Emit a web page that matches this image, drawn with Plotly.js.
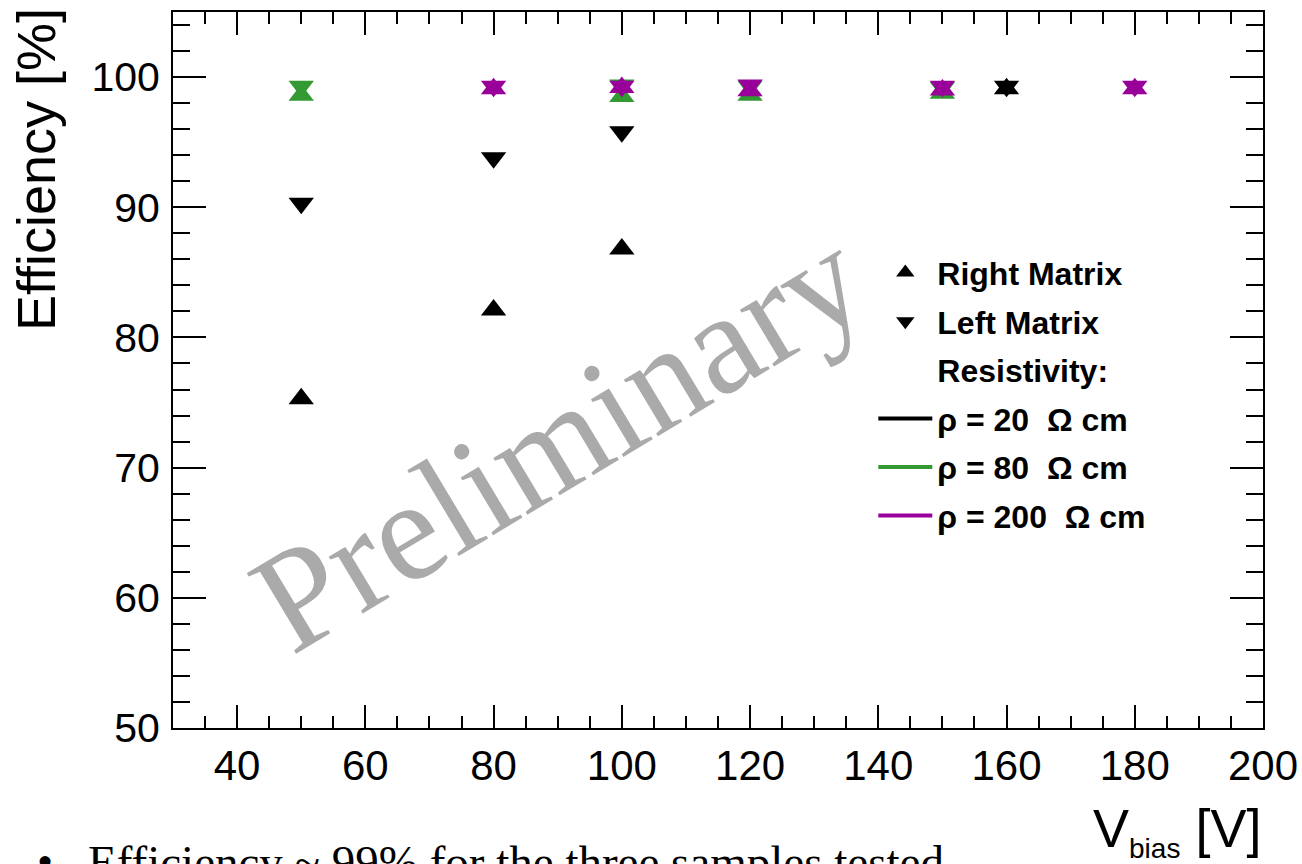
<!DOCTYPE html>
<html>
<head>
<meta charset="utf-8">
<script src="https://cdn.plot.ly/plotly-3.0.1.min.js"></script>
<style>
  html, body { margin: 0; padding: 0; background: #ffffff; }
  #chart { width: 1302px; height: 864px; }
</style>
</head>
<body>
<div id="chart"></div>
<script>
// ---- data ----
const vbias20 = [50, 80, 100, 160];
const rightMatrix20 = [75.3, 82.1, 86.8, 99.1];
const leftMatrix20 = [90.3, 93.8, 95.8, 99.3];

const vbias80 = [50, 100, 120, 150];
const rightMatrix80 = [98.6, 98.5, 98.6, 98.75];
const leftMatrix80 = [99.3, 99.4, 99.3, 99.2];

const vbias200 = [80, 100, 120, 150, 180];
const rightMatrix200 = [99.1, 99.2, 98.95, 99.0, 99.1];
const leftMatrix200 = [99.3, 99.3, 99.4, 99.3, 99.3];

const seriesColors = ['#000000', '#339933', '#990099'];
const legendLabels = ['Right Matrix', 'Left Matrix', 'Resistivity:',
  '\u03c1 = 20 \u00a0\u03a9 cm', '\u03c1 = 80 \u00a0\u03a9 cm', '\u03c1 = 200 \u00a0\u03a9 cm'];
const xTitle = 'V<sub><span style="font-size:28px">bias</span></sub> [V]';
const yTitle = 'Efficiency [%]';
const watermark = 'Preliminary';
const footnote = 'Efficiency ~ 99% for the three samples tested';

// ---- plot geometry (pixels) ----
const W = 1302, H = 864;
const L = 172.7, R = 1262.7, T = 11.7, B = 727.7;
const PW = R - L, PH = B - T;
const px = x => (x - L) / PW;
const py = y => (B - y) / PH;

const MS = 22;
function dataTrace(x, y, color, symbol) {
  return { type: 'scatter', mode: 'markers', x: x, y: y, showlegend: false,
    hoverinfo: 'x+y',
    marker: { symbol: symbol, size: MS, color: color, line: { width: 0 } } };
}

const traces = [
  dataTrace(vbias20, rightMatrix20, seriesColors[0], 'triangle-up'),
  dataTrace(vbias20, leftMatrix20, seriesColors[0], 'triangle-down'),
  dataTrace(vbias80, rightMatrix80, seriesColors[1], 'triangle-up'),
  dataTrace(vbias80, leftMatrix80, seriesColors[1], 'triangle-down'),
  dataTrace(vbias200, rightMatrix200, seriesColors[2], 'triangle-up'),
  dataTrace(vbias200, leftMatrix200, seriesColors[2], 'triangle-down'),
  // legend entries
  { type: 'scatter', mode: 'markers', x: [null], y: [null], name: legendLabels[0], legendgroup: 'g0',
    marker: { symbol: 'triangle-up', size: 16, color: '#000' } },
  { type: 'scatter', mode: 'markers', x: [null], y: [null], name: legendLabels[1], legendgroup: 'g1',
    marker: { symbol: 'triangle-down', size: 16, color: '#000' } },
  { type: 'scatter', mode: 'markers', x: [null], y: [null], name: legendLabels[2], legendgroup: 'g2',
    marker: { size: 10, color: 'rgba(0,0,0,0)' } },
  { type: 'scatter', mode: 'lines', x: [null], y: [null], name: legendLabels[3], legendgroup: 'g3',
    line: { color: seriesColors[0], width: 4 } },
  { type: 'scatter', mode: 'lines', x: [null], y: [null], name: legendLabels[4], legendgroup: 'g4',
    line: { color: seriesColors[1], width: 4 } },
  { type: 'scatter', mode: 'lines', x: [null], y: [null], name: legendLabels[5], legendgroup: 'g5',
    line: { color: seriesColors[2], width: 4 } }
];

const sans = 'Liberation Sans, Arial, Helvetica, sans-serif';
const serif = 'Liberation Serif, Times New Roman, serif';

const layout = {
  width: W, height: H,
  margin: { l: L, r: W - R, t: T, b: H - B, pad: 0 },
  paper_bgcolor: '#ffffff', plot_bgcolor: '#ffffff',
  showlegend: true,
  legend: {
    x: px(873), xanchor: 'left', y: py(245), yanchor: 'top',
    bgcolor: 'rgba(0,0,0,0)', borderwidth: 0,
    font: { family: sans, size: 32, color: '#000', weight: 'bold' },
    traceorder: 'grouped', tracegroupgap: 4, itemwidth: 54
  },
  xaxis: {
    range: [30, 200], dtick: 20, tick0: 0,
    showgrid: false, zeroline: false,
    showline: true, linecolor: '#000', linewidth: 2, mirror: 'allticks',
    ticks: 'inside', ticklen: 23, tickwidth: 2, tickcolor: '#000',
    minor: { dtick: 5, ticks: 'inside', ticklen: 12, tickwidth: 2, tickcolor: '#000', showgrid: false },
    tickfont: { family: sans, size: 42, color: '#000' },
    ticklabelstandoff: 0
  },
  yaxis: {
    range: [50, 105], dtick: 10, tick0: 0,
    showgrid: false, zeroline: false,
    showline: true, linecolor: '#000', linewidth: 2, mirror: 'allticks',
    ticks: 'inside', ticklen: 33, tickwidth: 2, tickcolor: '#000',
    minor: { dtick: 2, ticks: 'inside', ticklen: 17, tickwidth: 2, tickcolor: '#000', showgrid: false },
    tickfont: { family: sans, size: 41, color: '#000' },
    ticklabelstandoff: 3
  },
  annotations: [
    { text: yTitle, xref: 'paper', yref: 'paper', x: px(36), y: py(6),
      xanchor: 'center', yanchor: 'top', textangle: -90, showarrow: false,
      font: { family: sans, size: 54, color: '#000' } },
    { text: xTitle, xref: 'paper', yref: 'paper', x: 1.0, y: py(796),
      xanchor: 'right', yanchor: 'top', showarrow: false,
      font: { family: sans, size: 54, color: '#000' } },
    { text: watermark, xref: 'paper', yref: 'paper', x: px(558), y: py(439),
      xanchor: 'center', yanchor: 'middle', textangle: -31, showarrow: false,
      font: { family: serif, size: 144, color: '#aaaaaa' } },
    { text: '\u2022', xref: 'paper', yref: 'paper', x: px(45), y: py(834),
      xanchor: 'center', yanchor: 'top', showarrow: false,
      font: { family: serif, size: 46, color: '#000' } },
    { text: footnote, xref: 'paper', yref: 'paper', x: px(86), y: py(834),
      xanchor: 'left', yanchor: 'top', showarrow: false,
      font: { family: serif, size: 47, color: '#000' } }
  ]
};

Plotly.newPlot('chart', traces, layout, { displayModeBar: false, staticPlot: true });
</script>
</body>
</html>
